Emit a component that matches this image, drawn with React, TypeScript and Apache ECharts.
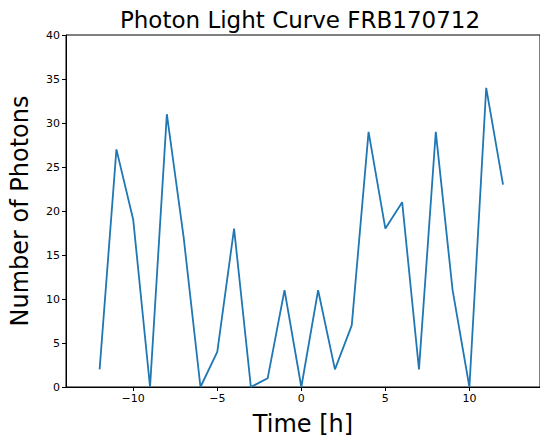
import React, { useEffect, useRef } from "react";
import * as echarts from "echarts";

const times = [-12, -11, -10, -9, -8, -7, -6, -5, -4, -3, -2, -1, 0, 1, 2, 3, 4, 5, 6, 7, 8, 9, 10, 11, 12];
const photons = [2, 27, 19, 0, 31, 17, 0, 4, 18, 0, 1, 11, 0, 11, 2, 7, 29, 18, 21, 2, 29, 11, 0, 34, 23];
const xTicks = [-10, -5, 0, 5, 10];
const titleText = "Photon Light Curve FRB170712";
const xLabel = "Time [h]";
const yLabel = "Number of Photons";

const FONT = "DejaVu Sans";

export default function App() {
  const ref = useRef<HTMLDivElement>(null);
  useEffect(() => {
    if (!ref.current) return;
    const chart = echarts.init(ref.current, null, { renderer: "svg" });
    chart.setOption({
      animation: false,
      backgroundColor: "#ffffff",
      title: {
        text: titleText,
        left: 295,
        textAlign: "center",
        top: 3,
        textStyle: { fontFamily: FONT, fontSize: 23, fontWeight: "normal", color: "#000" },
      },
      grid: {
        left: 64,
        top: 35,
        width: 479.4,
        height: 355,
        show: true,
        borderColor: "#000",
        borderWidth: 1,
      },
      xAxis: {
        type: "value",
        min: -14,
        max: 14.2,
        name: xLabel,
        nameLocation: "middle",
        nameGap: 25,
        nameTextStyle: { fontFamily: FONT, fontSize: 24, color: "#000" },
        axisLine: { show: true, onZero: false, lineStyle: { color: "#000", width: 1 } },
        axisTick: { show: true, length: 4, customValues: xTicks, lineStyle: { color: "#000" } },
        axisLabel: {
          customValues: xTicks,
          fontFamily: FONT,
          fontSize: 11,
          color: "#000",
          margin: 6,
          formatter: (v: number) => String(v).replace("-", "\u2212"),
        },
        splitLine: { show: false },
      },
      yAxis: {
        type: "value",
        min: 0,
        max: 40,
        interval: 5,
        name: yLabel,
        nameLocation: "middle",
        nameRotate: 90,
        nameGap: 34,
        nameTextStyle: { fontFamily: FONT, fontSize: 24, color: "#000" },
        axisLine: { show: true, onZero: false, lineStyle: { color: "#000", width: 1 } },
        axisTick: { show: true, length: 4, lineStyle: { color: "#000" } },
        axisLabel: { fontFamily: FONT, fontSize: 11, color: "#000", margin: 6 },
        splitLine: { show: false },
      },
      series: [
        {
          type: "line",
          data: times.map((t, i) => [t, photons[i]]),
          showSymbol: false,
          symbol: "none",
          lineStyle: { color: "#1f77b4", width: 1.8 },
          itemStyle: { color: "#1f77b4" },
        },
      ],
    });
    return () => chart.dispose();
  }, []);
  return <div ref={ref} style={{ width: 540, height: 441, position: "absolute", left: 0, top: 0 }} />;
}
